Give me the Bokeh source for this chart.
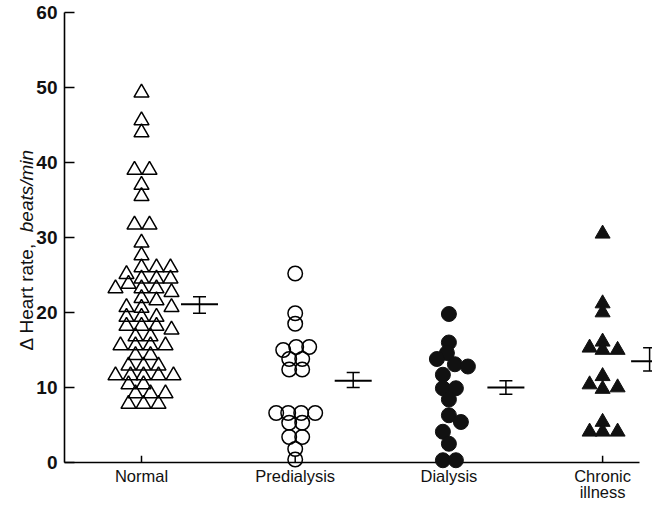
import math
from bokeh.plotting import figure
from bokeh.models import FixedTicker, Label, ColumnDataSource, LinearAxis
from bokeh.embed import file_html
from bokeh.resources import INLINE
from bokeh.core.properties import value

# ---------------- data ----------------
categories = ["Normal", "Predialysis", "Dialysis", "Chronic\nillness"]
cat_pos = [1, 2, 3, 4]

normal_values = [49.3, 45.6, 44.0, 39.0, 39.0, 37.0, 35.5, 31.7, 31.7, 29.3, 27.6,
                 26.0, 26.0, 26.0, 25.1, 24.5, 24.5, 24.5, 23.8, 23.2, 23.2, 23.2,
                 22.7, 21.9, 21.6, 20.7, 20.7, 20.6, 19.4, 19.4, 19.4, 18.2, 18.2,
                 18.2, 17.7, 16.8, 16.8, 15.6, 15.6, 15.6, 15.6, 14.3, 14.3, 12.9,
                 12.9, 12.9, 11.6, 11.6, 11.6, 11.6, 11.6, 10.4, 10.4, 9.2, 9.2,
                 9.2, 7.8, 7.8, 7.8]
predialysis_values = [25.2, 19.9, 18.5, 15.0, 15.4, 15.4, 13.8, 13.8, 12.4, 12.4,
                      6.6, 6.6, 6.6, 6.6, 5.3, 5.3, 3.4, 3.4, 1.8, 0.4]
dialysis_values = [19.8, 16.0, 14.6, 13.8, 13.1, 12.8, 11.7, 9.9, 9.9, 8.4, 6.3,
                   5.4, 4.1, 2.5, 0.3, 0.3]
chronic_values = [30.5, 21.2, 20.0, 16.1, 15.0, 15.3, 15.0, 11.5, 10.4, 9.8, 10.0,
                  5.4, 4.1, 4.1, 4.1]

mean_values = [21.1, 10.9, 10.0, 13.5]
se_low = [19.9, 10.0, 9.1, 12.2]
se_high = [22.1, 12.0, 10.9, 15.3]

y_ticks = [0, 10, 20, 30, 40, 50, 60]

# ---------------- layout (pixel-based placement within each cluster) ----------------
PX = 153.7   # pixels per category unit
PY = 7.5     # pixels per y unit
normal_dx = [0, 0, 0, -7, 8, 0, 0, -7, 8, 0, 0,
             0, 15, 29, -15, 0, 15, 29, -13, -26, 0, 15,
             30, 0, 15, -15, 30, 0, -15, 0, 15, -15, 0,
             15, 30, -6, 9, -21, -6, 9, 24, -6, 9, -13,
             2, 17, -26, -11, 2, 17, 32, -13, 2, -6, 9,
             24, -13, 2, 17]
predialysis_dx = [0, 0, 0, -12, 1, 14, -6, 7, -6, 7,
                  -19, -7, 6, 20, -6, 7, -6, 7, 0, 0]
dialysis_dx = [0, 0, -2, -12, 6, 19, -6, -6, 7, 0, 0,
               12, -6, 0, -6, 7]
chronic_dx = [0, 0, 0, 0, 0, -13, 15, 0, -13, 0, 15,
              0, -13, 0, 15]
bar_dx = [58, 58, 57, 47]

def xs(cat, dxs):
    return [cat + d / PX for d in dxs]

x0 = 1 - (149 - 8) / PX          # frame starts at canvas left
x1 = x0 + 652 / PX
x_axis_at = 1 - (149 - 72) / PX  # where the y axis sits
y1 = 60 + 12 / PY                # y=60 at 20 px from the window top
y0 = -40 / PY                    # y=0 at 470 px

p = figure(width=652, height=502, x_range=(x0, x1), y_range=(y0, y1),
           x_axis_type=None, y_axis_type=None, output_backend="svg",
           toolbar_location=None, min_border_left=0, min_border_right=0,
           min_border_top=0, min_border_bottom=0)
p.outline_line_color = None
p.grid.visible = False
p.background_fill_color = "white"
p.border_fill_color = "white"

FONT = "Liberation Sans"

yax = LinearAxis(fixed_location=x_axis_at)
yax.ticker = FixedTicker(ticks=y_ticks)
yax.bounds = (0, 60)
yax.major_tick_in = 10
yax.major_tick_out = 0
yax.minor_tick_line_color = None
yax.axis_line_width = 1.6
yax.major_tick_line_width = 1.5
yax.major_label_standoff = 7
yax.major_label_text_font = FONT
yax.major_label_text_font_size = "19px"
yax.major_label_text_font_style = "bold"
yax.major_label_text_color = "#111111"
p.add_layout(yax, "left")

# x axis line at y = 0 and category ticks
x_axis_end = 1 + (647 - 149) / PX
p.segment(x0=[x_axis_at], y0=[0], x1=[x_axis_end], y1=[0], line_color="black", line_width=1.6)
p.segment(x0=cat_pos, y0=[0] * 4, x1=cat_pos, y1=[0.9] * 4, line_color="black", line_width=1.5)

# x category labels (one text per line)
line1 = [c.split("\n")[0] for c in categories]
line2_x = [x for x, c in zip(cat_pos, categories) if "\n" in c]
line2 = [c.split("\n")[1] for c in categories if "\n" in c]
p.text(x=cat_pos, y=[0] * 4, text=line1, y_offset=4, text_align="center",
       text_baseline="top", text_font=value(FONT), text_font_size="16.5px",
       text_color="#111111")
p.text(x=line2_x, y=[0] * len(line2), text=line2, y_offset=20, text_align="center",
       text_baseline="top", text_font=value(FONT), text_font_size="16.5px",
       text_color="#111111")

# data points
src_n = ColumnDataSource(dict(x=xs(cat_pos[0], normal_dx), y=normal_values))
src_p = ColumnDataSource(dict(x=xs(cat_pos[1], predialysis_dx), y=predialysis_values))
src_d = ColumnDataSource(dict(x=xs(cat_pos[2], dialysis_dx), y=dialysis_values))
src_c = ColumnDataSource(dict(x=xs(cat_pos[3], chronic_dx), y=chronic_values))

p.scatter("x", "y", source=src_n, marker="triangle", size=15, fill_alpha=0,
          line_color="black", line_width=1.5)
p.scatter("x", "y", source=src_p, marker="circle", size=14.5, fill_alpha=0,
          line_color="black", line_width=1.5)
p.scatter("x", "y", source=src_d, marker="circle", size=15, fill_color="#111111",
          line_color="#111111", line_width=1)
p.scatter("x", "y", source=src_c, marker="triangle", size=15, fill_color="#111111",
          line_color="#111111", line_width=1)

# mean +- SE bars
bx = [c + d / PX for c, d in zip(cat_pos, bar_dx)]
p.segment(x0=bx, y0=se_low, x1=bx, y1=se_high, line_color="black", line_width=1.5)
p.scatter(bx, se_low, marker="dash", size=13, line_color="black", line_width=1.5)
p.scatter(bx, se_high, marker="dash", size=13, line_color="black", line_width=1.5)
p.scatter(bx, mean_values, marker="dash", size=37, line_color="black", line_width=1.8)

# y axis title (regular + italic parts)
p.add_layout(Label(x=26, y=29.3, x_units="screen", y_units="data", text="Δ Heart rate,",
                   angle=math.pi / 2, text_align="right", text_baseline="middle",
                   text_font=FONT, text_font_size="19px", text_color="#111111"))
p.add_layout(Label(x=26, y=30.7, x_units="screen", y_units="data", text="beats/min",
                   angle=math.pi / 2, text_align="left", text_baseline="middle",
                   text_font=FONT, text_font_size="19px", text_font_style="italic",
                   text_color="#111111"))

open("out.html", "w").write(file_html(p, INLINE))
